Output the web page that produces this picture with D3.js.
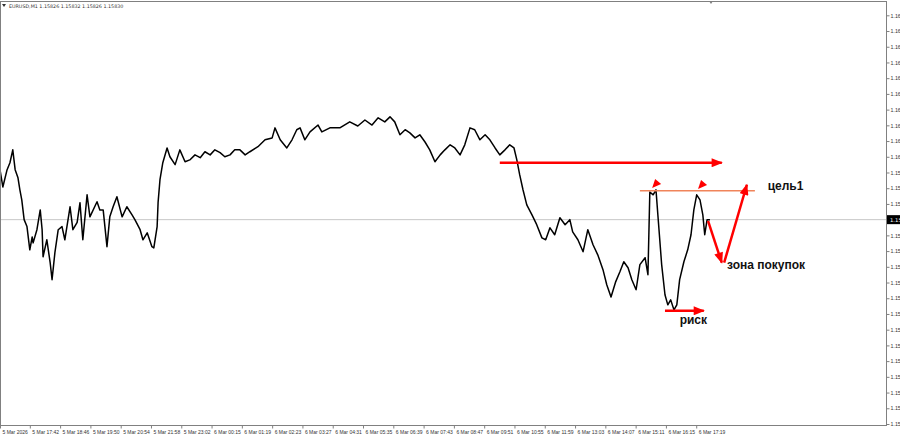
<!DOCTYPE html>
<html>
<head>
<meta charset="utf-8">
<script src="https://cdn.jsdelivr.net/npm/d3@7"></script>
<style>
  body { margin: 0; background: #fff; }
  svg { display: block; }
</style>
</head>
<body>
<div id="chart"></div>
<script>
// EURUSD M1, bar index counted from the first bar on screen
var symbolTitle = 'EURUSD,M1  1.15826 1.15832 1.15826 1.15830';
var lastPrice = 1.15830;

var bars = [0, 6, 15, 21, 27, 32, 38, 42, 46, 51, 57, 63, 68, 70, 78, 85, 89, 91, 99, 106,
  110, 116, 123, 131, 137, 148, 154, 163, 169, 175, 184, 190, 205, 211, 218, 226, 232, 239, 247, 258,
  268, 279, 285, 296, 302, 311, 321, 325, 332, 334, 338, 344, 353, 359,
  370, 380, 391, 401, 412, 423, 433, 444, 454, 465, 475, 486, 496, 507, 518, 528, 545, 560, 575, 581,
  592, 606, 617, 627, 634, 644, 655, 672, 680, 697, 718, 739, 756, 771, 786, 799, 813, 824, 834, 845,
  856, 866, 877, 887, 898, 908, 919, 930, 940, 951, 961, 972, 982, 993, 1003, 1014, 1025, 1035, 1046,
  1056, 1067, 1077, 1086, 1092,
  1098, 1105, 1113, 1124, 1134, 1145, 1153, 1162, 1172, 1183, 1194, 1204, 1210, 1221, 1232, 1242,
  1253, 1263, 1274, 1282, 1291, 1301, 1310, 1318, 1327, 1335, 1344, 1352, 1363, 1369,
  1373, 1380, 1386, 1390, 1394, 1398, 1405, 1411, 1417, 1424, 1430, 1436, 1445, 1453, 1460, 1466,
  1472, 1479, 1485, 1489, 1494, 1500];

var closes = [1.15989, 1.15934, 1.15989, 1.16011, 1.16052, 1.15989, 1.15963, 1.15925, 1.15893, 1.15830,
  1.15808, 1.15734, 1.15775, 1.15756, 1.15798, 1.15861, 1.15798, 1.15712, 1.15766, 1.15693,
  1.15639, 1.15725, 1.15798, 1.15808, 1.15766, 1.15871, 1.15798, 1.15821, 1.15884, 1.15766,
  1.15909, 1.15839, 1.15887, 1.15861, 1.15861, 1.15744, 1.15839, 1.15871, 1.15903, 1.15839,
  1.15871, 1.15845, 1.15830, 1.15798, 1.15766, 1.15788, 1.15744, 1.15740, 1.15808, 1.15884,
  1.15957, 1.16011, 1.16058, 1.16030,
  1.16005, 1.16052, 1.16014, 1.16020, 1.16036, 1.16027, 1.16046, 1.16036, 1.16052, 1.16043,
  1.16030, 1.16036, 1.16052, 1.16052, 1.16036, 1.16046, 1.16062, 1.16084, 1.16090, 1.16122,
  1.16084, 1.16058, 1.16084, 1.16116, 1.16122, 1.16084, 1.16109, 1.16131, 1.16109, 1.16122,
  1.16122, 1.16141, 1.16128, 1.16147, 1.16131, 1.16154, 1.16141, 1.16157, 1.16141, 1.16100,
  1.16116, 1.16106, 1.16090, 1.16100, 1.16077, 1.16052, 1.16014, 1.16036, 1.16052, 1.16068,
  1.16058, 1.16036, 1.16068, 1.16122, 1.16116, 1.16084, 1.16100, 1.16084, 1.16058,
  1.16036, 1.16052, 1.16068, 1.16058, 1.16020,
  1.15973, 1.15925, 1.15877, 1.15845, 1.15814, 1.15772, 1.15766, 1.15804, 1.15782, 1.15836,
  1.15814, 1.15830, 1.15791, 1.15766, 1.15728, 1.15798,
  1.15750, 1.15718, 1.15671, 1.15623, 1.15584, 1.15633, 1.15665, 1.15696, 1.15677, 1.15639,
  1.15607, 1.15687, 1.15709, 1.15655,
  1.15918, 1.15909, 1.15925, 1.15845, 1.15766, 1.15687, 1.15591, 1.15559, 1.15575, 1.15543,
  1.15559, 1.15639, 1.15696, 1.15734, 1.15782, 1.15861,
  1.15909, 1.15893, 1.15845, 1.15782, 1.15830, 1.15830];

// 1.15830 sits under the last price label, so it is not listed
var priceTicks = [1.16480, 1.16430, 1.16380, 1.16330, 1.16280, 1.16230, 1.16180, 1.16130, 1.16080,
  1.16030, 1.15980, 1.15930, 1.15880, 1.15780, 1.15730, 1.15680, 1.15630, 1.15580,
  1.15530, 1.15480, 1.15430, 1.15380, 1.15330, 1.15280, 1.15230, 1.15180];

var timeTickBars = [0, 63, 127, 191, 255, 319, 383, 447, 511, 575, 639, 703, 767, 831, 895, 959,
  1023, 1087, 1151, 1215, 1279, 1343, 1407, 1471];
var timeTickLabels = ['5 Mar 2026', '5 Mar 17:42', '5 Mar 18:46', '5 Mar 19:50', '5 Mar 20:54',
  '5 Mar 21:58', '5 Mar 23:02', '6 Mar 00:15', '6 Mar 01:19', '6 Mar 02:23', '6 Mar 03:27',
  '6 Mar 04:31', '6 Mar 05:35', '6 Mar 06:39', '6 Mar 07:43', '6 Mar 08:47', '6 Mar 09:51',
  '6 Mar 10:55', '6 Mar 11:59', '6 Mar 13:03', '6 Mar 14:07', '6 Mar 15:11', '6 Mar 16:15',
  '6 Mar 17:19'];

// drawings on the chart, [bar1, price1, bar2, price2]
var redArrows = [
  [1056, 1.16011, 1525, 1.16011],
  [1496, 1.15826, 1525, 1.15693],
  [1530, 1.15693, 1578, 1.15941],
  [1405, 1.15540, 1487, 1.15540]
];
var targetLine = [1352, 1.15922, 1595, 1.15922];
var flagBars = [1380, 1477];
var flagPrices = [1.15934, 1.15931];
var noteTexts = ['цель1', 'зона покупок', 'риск'];
var noteBars = [1622, 1536, 1436];
var notePrices = [1.15925, 1.15674, 1.15499];

var width = 900,
    height = 437,
    plot = { left: 0, top: 1, right: 886, bottom: 425 };

var xScale = d3.scaleLinear()
    .domain([0, 1872])
    .range([plot.left, plot.right]);

var yScale = d3.scaleLinear()
    .domain([1.15180, 1.16480])
    .range([424, 15.3]);

var svg = d3.select('#chart').append('svg')
    .attr('width', width)
    .attr('height', height)
    .style('font-family', 'Tahoma, "DejaVu Sans", sans-serif');

var defs = svg.append('defs');
defs.append('marker')
    .attr('id', 'head')
    .attr('markerUnits', 'userSpaceOnUse')
    .attr('viewBox', '0 0 10 8')
    .attr('refX', 9)
    .attr('refY', 4)
    .attr('markerWidth', 12)
    .attr('markerHeight', 9)
    .attr('orient', 'auto')
  .append('path')
    .attr('d', 'M0,0 L10,4 L0,8 Z')
    .style('fill', '#ff0000');

// current price line
svg.append('line')
    .attr('x1', plot.left).attr('x2', plot.right)
    .attr('y1', yScale(lastPrice)).attr('y2', yScale(lastPrice))
    .style('stroke', '#c8c8c8')
    .style('stroke-width', 1);

// price line
var line = d3.line()
    .x(function(d) { return xScale(d[0]); })
    .y(function(d) { return yScale(d[1]); });

svg.append('path')
    .datum(d3.zip(bars, closes))
    .attr('d', line)
    .style('fill', 'none')
    .style('stroke', '#000')
    .style('stroke-width', 1.5)
    .style('stroke-linejoin', 'round');

// frame
svg.append('rect')
    .attr('x', plot.left + 0.5)
    .attr('y', plot.top + 0.5)
    .attr('width', plot.right - plot.left)
    .attr('height', plot.bottom - plot.top)
    .style('fill', 'none')
    .style('stroke', '#808080')
    .style('stroke-width', 1);

// right price axis, labels run past the window edge like the terminal
var yAxis = d3.axisRight(yScale)
    .tickValues(priceTicks)
    .tickSize(3)
    .tickPadding(1)
    .tickFormat(d3.format('.5f'));

svg.append('g')
    .attr('transform', 'translate(' + (plot.right + 0.5) + ',0)')
    .call(yAxis)
    .call(function(g) {
      g.select('.domain').remove();
      g.selectAll('line').style('stroke', '#808080');
      g.selectAll('text').style('font-size', '5.3px').style('fill', '#333').style('font-family', null);
    });

// bottom time axis
var xAxis = d3.axisBottom(xScale)
    .tickValues(timeTickBars)
    .tickSize(3)
    .tickFormat(function(d, i) { return timeTickLabels[i]; });

svg.append('g')
    .attr('transform', 'translate(0,' + (plot.bottom + 0.5) + ')')
    .call(xAxis)
    .call(function(g) {
      g.select('.domain').remove();
      g.selectAll('line').style('stroke', '#808080');
      g.selectAll('text')
        .attr('text-anchor', 'start')
        .attr('x', 2)
        .attr('y', 5)
        .style('font-size', '5px')
        .style('fill', '#333')
        .style('font-family', null);
    });

// last price label
svg.append('rect')
    .attr('x', plot.right + 1)
    .attr('y', yScale(lastPrice) - 4.5)
    .attr('width', 14)
    .attr('height', 9)
    .style('fill', '#000');
svg.append('text')
    .attr('x', plot.right + 4)
    .attr('y', yScale(lastPrice) + 2)
    .style('font-size', '5.3px')
    .style('fill', '#fff')
    .text(d3.format('.5f')(lastPrice));

// title
svg.append('path')
    .attr('d', 'M2,4 L6,4 L4,7 Z')
    .style('fill', '#333');
svg.append('text')
    .attr('x', 9)
    .attr('y', 8)
    .style('font-size', '4.8px')
    .style('fill', '#333')
    .text(symbolTitle);

// shift marker at top
svg.append('path')
    .attr('d', 'M709,1 L713,1 L711,4 Z')
    .style('fill', '#808080');

// target line
svg.append('line')
    .attr('x1', xScale(targetLine[0])).attr('y1', yScale(targetLine[1]))
    .attr('x2', xScale(targetLine[2])).attr('y2', yScale(targetLine[3]))
    .style('stroke', '#f0845a')
    .style('stroke-width', 1.5);

// red arrows
svg.selectAll('.arrow')
    .data(redArrows)
    .enter().append('line')
    .attr('class', 'arrow')
    .attr('x1', function(d) { return xScale(d[0]); })
    .attr('y1', function(d) { return yScale(d[1]); })
    .attr('x2', function(d) { return xScale(d[2]); })
    .attr('y2', function(d) { return yScale(d[3]); })
    .attr('marker-end', 'url(#head)')
    .style('stroke', '#ff0000')
    .style('stroke-width', 2.5);

// small flags at the tops
svg.selectAll('.flag')
    .data(d3.zip(flagBars, flagPrices))
    .enter().append('path')
    .attr('class', 'flag')
    .attr('transform', function(d) {
      return 'translate(' + xScale(d[0]) + ',' + yScale(d[1]) + ')';
    })
    .attr('d', 'M-1,1 L2,-8 L8,-3 Z')
    .style('fill', '#ff0000');

// notes
svg.selectAll('.note')
    .data(noteTexts)
    .enter().append('text')
    .attr('class', 'note')
    .attr('x', function(d, i) { return xScale(noteBars[i]); })
    .attr('y', function(d, i) { return yScale(notePrices[i]); })
    .style('font-family', '"Liberation Sans", Arial, sans-serif')
    .style('font-weight', 'bold')
    .style('font-size', '12px')
    .style('fill', '#111')
    .text(function(d) { return d; });
</script>
</body>
</html>
